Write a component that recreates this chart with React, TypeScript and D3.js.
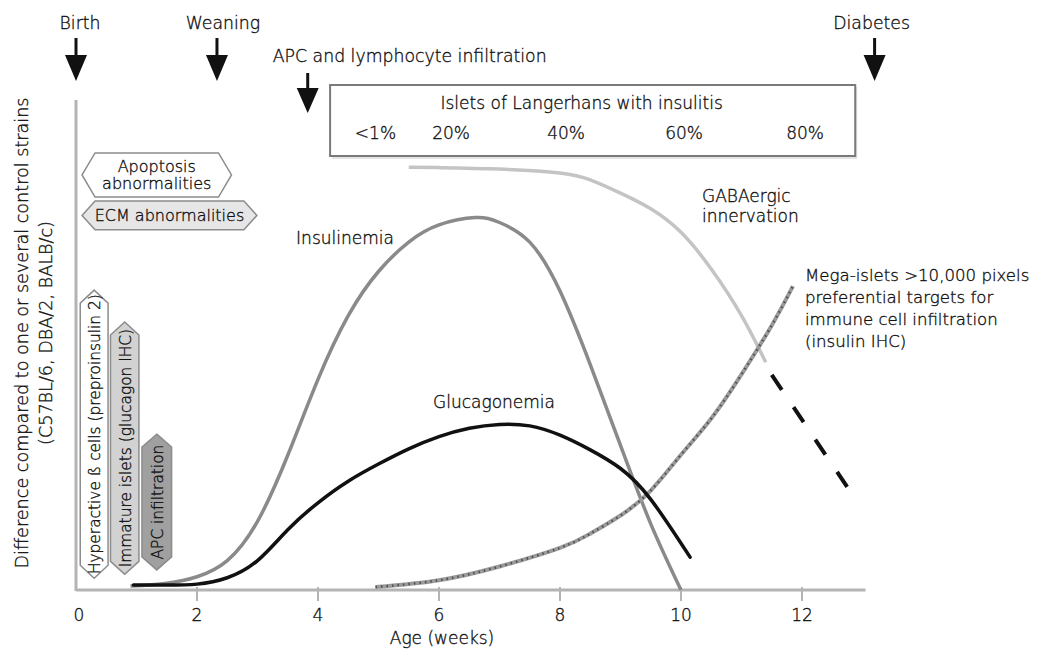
import React from "react";
import * as d3 from "d3";

// ages (weeks) and relative levels
const insulinWeeks = [0.9, 1.5, 2, 2.5, 3, 3.5, 4, 4.5, 5, 5.5, 6, 6.6, 7, 7.5, 8, 8.5, 9, 9.5, 10];
const insulinemia = [0.8, 1.4, 2.7, 6, 14, 27.5, 43, 56, 65, 71, 74.5, 76, 75, 71, 61, 46, 29.5, 13.5, 0];

const glucagonWeeks = [0.95, 1.5, 2, 2.5, 3, 3.5, 4, 4.5, 5, 5.5, 6, 6.5, 7, 7.5, 8, 8.5, 9, 9.5, 10.15];
const glucagonemia = [1, 1, 1.2, 2.5, 6, 12.3, 17.8, 22.2, 25.7, 28.8, 31.3, 33, 33.8, 33.5, 31.6, 28.6, 24.8, 18.5, 6.7];

const gabaWeeks = [5.5, 6, 7, 8, 8.5, 9, 9.5, 10, 10.5, 11, 11.4];
const gabaergic = [86.3, 86.2, 85.9, 85.1, 83.7, 81, 77.8, 73, 65.5, 56, 46.5];
const gabaProjWeeks = [11.5, 12.76];
const gabaProjected = [43.9, 20.8];

const megaWeeks = [4.95, 6, 7, 8, 8.5, 9, 9.5, 10, 10.5, 11, 11.5, 11.85];
const megaIslets = [0.6, 2.0, 4.8, 8.6, 11.5, 15.2, 20.3, 27.6, 35, 44, 54, 62];

const xTicks = [0, 2, 4, 6, 8, 10, 12];

const events = ["Birth", "Weaning", "APC and lymphocyte infiltration", "Diabetes"];
const eventWeeks = [0, 2.33, 3.83, 13.2];

const insulitisLabels = ["<1%", "20%", "40%", "60%", "80%"];
const insulitisWeeks = [4.95, 6.2, 8.1, 10.05, 12.05];

// horizontal tags: [start week, end week], [low level, high level]
const hTags = ["Apoptosis\nabnormalities", "ECM abnormalities"];
const hTagSpans = [[0.1, 2.57], [0.1, 2.99]];
const hTagLevels = [[80.2, 89.2], [73.5, 79.4]];

// vertical tags
const vTags = ["Hyperactive ß cells (preproinsulin 2)", "Immature islets (glucagon IHC)", "APC infiltration"];
const vTagSpans = [[0.07, 0.53], [0.57, 1.04], [1.09, 1.58]];
const vTagTops = [61.2, 54.7, 31.8];
const vTagBottoms = [2.4, 3.2, 4.1];
const vTagFills = ["#ffffff", "#d2d2d2", "#a0a0a0"];

const FONT = "'DejaVu Sans', Verdana, sans-serif";
const INK = "#111";

export default function App() {
  const W = 1046, H = 652;
  const x = d3.scaleLinear().domain([0, 12]).range([76, 802]);
  const y = d3.scaleLinear().domain([0, 100]).range([590, 100]);

  const line = d3.line<[number, number]>()
    .x(d => x(d[0]))
    .y(d => y(d[1]))
    .curve(d3.curveNatural);
  const straight = d3.line<[number, number]>().x(d => x(d[0])).y(d => y(d[1]));
  const zip = (a: number[], b: number[]) => a.map((w, i) => [w, b[i]] as [number, number]);

  const hexH = (x0: number, x1: number, yt: number, yb: number, k = 13) => {
    const ym = (yt + yb) / 2;
    return `M${x0},${ym}L${x0 + k},${yt}L${x1 - k},${yt}L${x1},${ym}L${x1 - k},${yb}L${x0 + k},${yb}Z`;
  };
  const hexV = (x0: number, x1: number, yt: number, yb: number, k = 13) => {
    const xm = (x0 + x1) / 2;
    return `M${xm},${yt}L${x1},${yt + k}L${x1},${yb - k}L${xm},${yb}L${x0},${yb - k}L${x0},${yt + k}Z`;
  };

  const arrow = (cx: number, top: number, headTop: number, headBot: number) => (
    <g>
      <line x1={cx} x2={cx} y1={top} y2={headTop + 2} stroke="#111" strokeWidth={3} />
      <path d={`M${cx - 11},${headTop}L${cx + 11},${headTop}L${cx},${headBot}Z`} fill="#111" />
    </g>
  );

  const boxX0 = x(4.2), boxX1 = x(12.88);

  // thin text, slightly thickened with a hairline stroke
  const txt = { fill: INK, stroke: INK, strokeWidth: 0.35 };

  return (
    <svg width={W} height={H} style={{ position: "absolute", left: 0, top: 0, background: "#fff" }}
      fontFamily={FONT} fontWeight={300}>
      {/* event arrows */}
      {events.map((ev, i) => {
        const cx = x(eventWeeks[i]);
        const isApc = i === 2;
        const labelX = i === 0 ? cx + 4 : i === 1 ? cx + 6 : isApc ? cx + 102 : cx - 3;
        return (
          <g key={ev}>
            {isApc ? arrow(cx, 73, 88, 113) : arrow(cx, 38, 55, 81)}
            <text x={labelX} y={29} dy={isApc ? 33 : 0} fontSize={17.3} textAnchor="middle" {...txt}>{ev}</text>
          </g>
        );
      })}

      {/* insulitis box */}
      <rect x={boxX0 + 2} y={87} width={boxX1 - boxX0} height={72} fill="#e4e4e4" />
      <rect x={boxX0} y={85} width={boxX1 - boxX0} height={71} fill="#fff" stroke="#7a7a7a" strokeWidth={2} />
      <text x={(boxX0 + boxX1) / 2 - 11} y={109} fontSize={17} textAnchor="middle" {...txt}>
        Islets of Langerhans with insulitis
      </text>
      {insulitisLabels.map((l, i) => (
        <text key={l} x={x(insulitisWeeks[i])} y={139} fontSize={17} textAnchor="middle" {...txt}>{l}</text>
      ))}

      {/* axes */}
      <line x1={x(0)} x2={x(0)} y1={y(100)} y2={y(0) + 1} stroke="#b4b4b4" strokeWidth={3} />
      <line x1={x(0)} x2={x(13.05)} y1={y(0)} y2={y(0)} stroke="#b4b4b4" strokeWidth={3} />
      {xTicks.map(t => (
        <g key={t}>
          {t > 0 && <line x1={x(t)} x2={x(t)} y1={y(0) - 3} y2={y(0) + 11} stroke="#b4b4b4" strokeWidth={2} />}
          <text x={x(t) + (t === 0 ? 3 : 0)} y={621} fontSize={17} textAnchor="middle" {...txt}>{t}</text>
        </g>
      ))}
      <text x={442} y={644} fontSize={17} textAnchor="middle" {...txt}>Age (weeks)</text>
      <g transform="translate(28,333) rotate(-90)">
        <text x={0} y={0} fontSize={17.6} textAnchor="middle" {...txt}>
          Difference compared to one or several control strains
        </text>
        <text x={0} y={24} fontSize={17.6} textAnchor="middle" {...txt}>(C57BL/6, DBA/2, BALB/c)</text>
      </g>

      {/* horizontal tags */}
      {hTags.map((t, i) => {
        const x0 = x(hTagSpans[i][0]), x1 = x(hTagSpans[i][1]);
        const yt = y(hTagLevels[i][1]), yb = y(hTagLevels[i][0]);
        const lines = t.split("\n");
        return (
          <g key={t}>
            <path d={hexH(x0, x1, yt, yb)} fill={i === 0 ? "#fff" : "#e6e6e6"} stroke="#8c8c8c" strokeWidth={1.5} />
            {lines.map((ln, j) => (
              <text key={ln} x={(x0 + x1) / 2} y={(yt + yb) / 2 + 6 + (j - (lines.length - 1) / 2) * 17}
                fontSize={16} textAnchor="middle" {...txt}>{ln}</text>
            ))}
          </g>
        );
      }).reverse()}

      {/* vertical tags */}
      {vTags.map((t, i) => {
        const x0 = x(vTagSpans[i][0]), x1 = x(vTagSpans[i][1]);
        const yt = y(vTagTops[i]), yb = y(vTagBottoms[i]);
        const cx = (x0 + x1) / 2, cy = (yt + yb) / 2;
        return (
          <g key={t}>
            <path d={hexV(x0, x1, yt, yb)} fill={vTagFills[i]} stroke="#8c8c8c" strokeWidth={1.5} />
            <text transform={`translate(${cx + 6},${cy}) rotate(-90)`} fontSize={15.4} textAnchor="middle" {...txt}>{t}</text>
          </g>
        );
      })}

      {/* curves */}
      <path d={line(zip(gabaWeeks, gabaergic)) || ""} fill="none" stroke="#c4c4c4" strokeWidth={3.5} />
      <path d={straight(zip(gabaProjWeeks, gabaProjected)) || ""}
        fill="none" stroke="#111" strokeWidth={4} strokeDasharray="18 21" />
      <path d={line(zip(insulinWeeks, insulinemia)) || ""} fill="none" stroke="#8a8a8a" strokeWidth={3.5} />
      <path d={line(zip(megaWeeks, megaIslets)) || ""} fill="none" stroke="#9a9a9a" strokeWidth={4} />
      <path d={line(zip(megaWeeks, megaIslets)) || ""} fill="none" stroke="#505050" strokeWidth={2.5} strokeDasharray="1.5 4" />
      <path d={line(zip(glucagonWeeks, glucagonemia)) || ""} fill="none" stroke="#111" strokeWidth={3.5} strokeLinecap="round" />

      {/* curve labels */}
      <text x={345} y={244} fontSize={17} textAnchor="middle" {...txt}>Insulinemia</text>
      <text x={494} y={408} fontSize={17} textAnchor="middle" {...txt}>Glucagonemia</text>
      <text fontSize={17} {...txt}>
        <tspan x={702} y={202}>GABAergic</tspan>
        <tspan x={702} y={222}>innervation</tspan>
      </text>
      <text fontSize={16.6} {...txt}>
        <tspan x={805} y={281}>Mega-islets &gt;10,000 pixels</tspan>
        <tspan x={805} y={303}>preferential targets for</tspan>
        <tspan x={805} y={325}>immune cell infiltration</tspan>
        <tspan x={805} y={347}>(insulin IHC)</tspan>
      </text>
    </svg>
  );
}
